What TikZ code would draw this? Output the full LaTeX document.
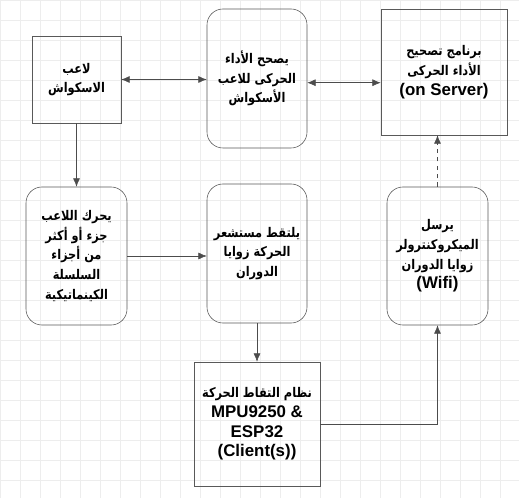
\documentclass[tikz,border=0pt]{standalone}
\usepackage{fontspec}
\setmainfont{Liberation Sans}
\newfontfamily\arabicfont[Script=Arabic,FakeStretch=0.85]{DejaVu Sans}
\TeXXeTstate=1
\usetikzlibrary{arrows.meta,positioning}
\newcommand{\artxt}[1]{{\arabicfont\bfseries\fontsize{9.5}{14}\selectfont\beginR #1\endR}}
\tikzset{%
	sharpbox/.style = {draw=black!65, rectangle, text centered, align=center, inner sep=2pt, font=\bfseries\fontsize{12}{14}\selectfont},
	roundbox/.style = {draw=black!65, rectangle, rounded corners=0.4cm, text centered, align=center, inner sep=2pt, font=\bfseries\fontsize{12}{14}\selectfont},
	arrow/.style    = {draw=black!70, -{Latex[length=6pt,width=5pt]}},
	twoway/.style   = {draw=black!70, {Latex[length=6pt,width=5pt]}-{Latex[length=6pt,width=5pt]}},
	gridline/.style = {draw=black!7, line width=0.3pt},
}

\begin{document}
\begin{tikzpicture}[x=0.025cm, y=-0.025cm]
	\useasboundingbox (0,0) rectangle (519,498);
	\fill[white] (0,0) rectangle (519,498);
	\draw[gridline] (0,0) grid[xstep=0.5cm, ystep=0.5cm] (519,498);
	% top row
	\node[sharpbox, minimum width=2.225cm, minimum height=2.175cm] (player) at (76.5,79.5) {\artxt{لاعب}\\ \artxt{الاسكواش}};
	\node[roundbox, minimum width=2.5cm, minimum height=3.475cm] (corrects) at (257,78.5) {\artxt{يصحح الأداء}\\ \artxt{الحركى للاعب}\\ \artxt{الأسكواش}};
	\node[sharpbox, minimum width=3.15cm, minimum height=3.15cm] (server) at (444,72) {\artxt{برنامج تصحيح}\\ \artxt{الأداء الحركى}\\ (on Server)};
	% middle row
	\node[roundbox, minimum width=2.525cm, minimum height=3.45cm] (moves) at (76.5,256) {\artxt{يحرك اللاعب}\\ \artxt{جزء أو أكثر}\\ \artxt{من أجزاء}\\ \artxt{السلسلة}\\ \artxt{الكينماتيكية}};
	\node[roundbox, minimum width=2.5cm, minimum height=3.475cm] (sensor) at (257,253.5) {\artxt{يلتقط مستشعر}\\ \artxt{الحركة زوايا}\\ \artxt{الدوران}};
	\node[roundbox, minimum width=2.525cm, minimum height=3.45cm] (sends) at (437.5,256) {\artxt{يرسل}\\ \artxt{الميكروكنترولر}\\ \artxt{زوايا الدوران}\\ (Wifi)};
	% bottom
	\node[sharpbox, minimum width=3.15cm, minimum height=3.1cm] (client) at (257,424) {\artxt{نظام التقاط الحركة}\\ MPU9250 \&\\ ESP32\\ (Client(s))};
	% connectors
	\draw[twoway] (player.east) -- (player.east -| corrects.west);
	\draw[twoway] ([yshift=-3pt]corrects.east) -- ([yshift=-3pt]corrects.east -| server.west);
	\draw[arrow] (player.south) -- (moves.north);
	\draw[arrow] (moves.east) -- (moves.east -| sensor.west);
	\draw[arrow] (sensor.south) -- (client.north);
	\draw[arrow] (client.east) -| (sends.south);
	\draw[arrow, dashed] (sends.north) -- (sends.north |- server.south);
\end{tikzpicture}
\end{document}
